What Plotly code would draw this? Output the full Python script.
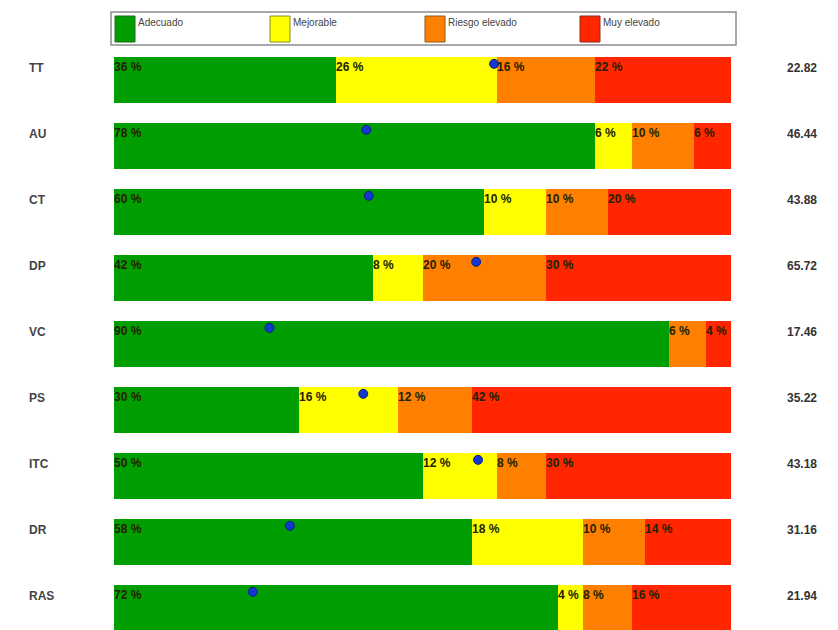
import plotly.graph_objects as go

# ---- data ----
categories = ["TT", "AU", "CT", "DP", "VC", "PS", "ITC", "DR", "RAS"]
levels = ["Adecuado", "Mejorable", "Riesgo elevado", "Muy elevado"]
adecuado = [36, 78, 60, 42, 90, 30, 50, 58, 72]
mejorable = [26, 6, 10, 8, 0, 16, 12, 18, 4]
riesgo_elevado = [16, 10, 10, 20, 6, 12, 8, 10, 8]
muy_elevado = [22, 6, 20, 30, 4, 42, 30, 14, 16]
marker_pos = [61.6, 40.9, 41.3, 58.7, 25.2, 40.4, 59.0, 28.5, 22.5]
scores = ["22.82", "46.44", "43.88", "65.72", "17.46", "35.22", "43.18", "31.16", "21.94"]

# ---- styling ----
colors = ["#009E00", "#FFFF00", "#FF8000", "#FF2600"]
edge_colors = ["#1d6b1d", "#8a8a2a", "#8a5a20", "#8a2a20"]
OFF = 8                      # page body margin in the browser
W, H = 838 - OFF, 630 - OFF
# plot area in screen pixels
L, R, T, B = 114, 731, 47, 630
PW, PH = R - L, B - T


def px_x(px):
    return (px - L) / PW


def px_y(py):
    return (B - py) / PH


series = [adecuado, mejorable, riesgo_elevado, muy_elevado]
idx = list(range(len(categories)))

fig = go.Figure()
for name, vals, col in zip(levels, series, colors):
    fig.add_trace(go.Bar(
        y=idx, x=vals, orientation="h", name=name,
        marker=dict(color=col, line=dict(width=0)),
        width=0.697, showlegend=False, hoverinfo="skip",
    ))

# mean-score markers
fig.add_trace(go.Scatter(
    x=marker_pos, y=[i - 0.245 for i in idx], mode="markers",
    marker=dict(size=9, color="#1238D0", line=dict(width=1, color="#0a1f80")),
    showlegend=False, hoverinfo="skip",
))

annotations = []
for i in idx:
    cum = 0
    for vals in series:
        v = vals[i]
        if v > 0:
            annotations.append(dict(
                x=cum, y=i, xref="x", yref="y", text=f"{v} %",
                showarrow=False, xanchor="left", yanchor="middle",
                xshift=-2, yshift=13,
                font=dict(family="Liberation Sans Narrow, Liberation Sans, Arial", size=12,
                          color="#222200", weight="bold"),
            ))
        cum += v
    annotations.append(dict(
        x=px_x(27), y=i, xref="paper", yref="y", text=categories[i],
        showarrow=False, xanchor="left", yanchor="middle", yshift=12,
        font=dict(family="Liberation Sans, Arial", size=12, color="#444444", weight="bold"),
    ))
    annotations.append(dict(
        x=px_x(819), y=i, xref="paper", yref="y", text=scores[i],
        showarrow=False, xanchor="right", yanchor="middle", yshift=12,
        font=dict(family="Liberation Sans Narrow, Liberation Sans, Arial", size=12,
                  color="#333333", weight="bold"),
    ))

# custom legend box
shapes = [dict(type="rect", xref="paper", yref="paper",
               x0=px_x(111), x1=px_x(736), y0=px_y(45), y1=px_y(12),
               line=dict(color="#8c8c8c", width=1.5), fillcolor="rgba(0,0,0,0)")]
swatch_x = [115, 270, 425, 580]
for name, col, ec, sx in zip(levels, colors, edge_colors, swatch_x):
    shapes.append(dict(type="rect", xref="paper", yref="paper",
                       x0=px_x(sx), x1=px_x(sx + 20), y0=px_y(42), y1=px_y(16),
                       line=dict(color=ec, width=1), fillcolor=col))
    annotations.append(dict(
        x=px_x(sx + 21), y=px_y(23), xref="paper", yref="paper", text=name,
        showarrow=False, xanchor="left", yanchor="middle",
        font=dict(family="Liberation Sans Narrow, Liberation Sans, Arial", size=10,
                  color="#444444"),
    ))

fig.update_layout(
    width=W, height=H, barmode="stack",
    margin=dict(l=L - OFF, r=(W + OFF) - R, t=T - OFF, b=(H + OFF) - B),
    paper_bgcolor="white", plot_bgcolor="white",
    xaxis=dict(range=[0, 100], visible=False, fixedrange=True),
    yaxis=dict(range=[8.333, -0.5], visible=False, fixedrange=True),
    annotations=annotations, shapes=shapes,
    showlegend=False,
)

fig.write_html("out.html")
